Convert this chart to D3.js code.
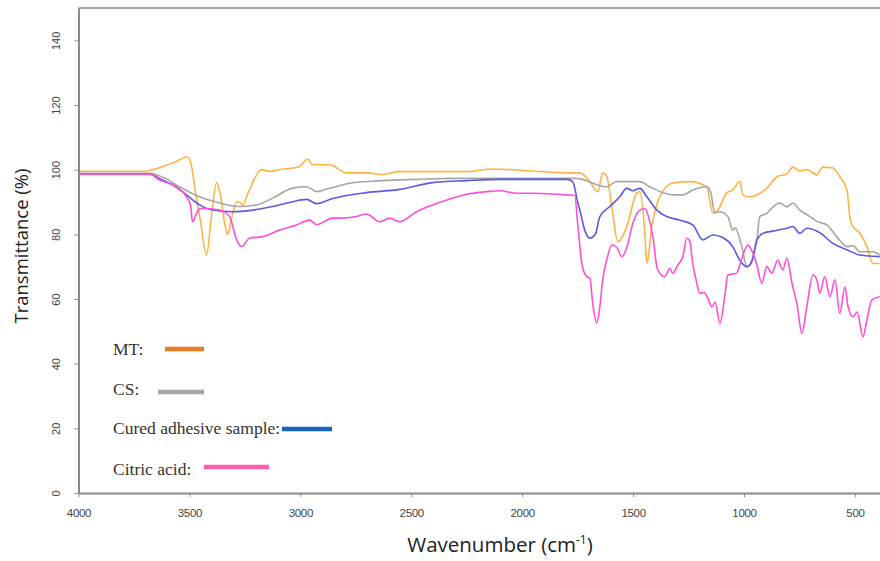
<!DOCTYPE html>
<html>
<head>
<meta charset="utf-8">
<script src="https://cdn.jsdelivr.net/npm/d3@7"></script>
<style>
  body { margin: 0; background: #fff; }
  svg { display: block; }
</style>
</head>
<body>
<svg width="880" height="561"></svg>
<script>
// FTIR spectra, [wavenumber, transmittance %]
const mt = [[4000,99.5],[3711,99.5],[3640,100.5],[3560,102.5],[3508,104],[3490,101],[3477,95],[3450,84],[3423,73.6],[3400,86],[3378,96],[3360,92],[3340,83],[3328,80],[3310,85],[3287,90],[3274,90],[3260,89],[3240,92],[3200,98],[3175,100],[3140,99.5],[3094,100],[3035,100.5],[3003,101],[2967,103.3],[2945,101.5],[2868,101.5],[2791,99],[2701,99],[2629,98.5],[2552,99.4],[2403,99.4],[2250,99.4],[2133,100.2],[1952,99.6],[1799,99],[1740,99],[1695,96.3],[1659,93.2],[1637,99],[1619,98],[1596,88.5],[1569,77.7],[1529,82.3],[1483,92.8],[1470,93.2],[1447,80.4],[1438,71],[1416,82.3],[1380,91.6],[1321,95.9],[1245,96.3],[1168,94.7],[1141,86.6],[1118,87.5],[1078,92.8],[1051,93.7],[1019,96.3],[1005,92.2],[974,91.6],[897,94.3],[852,97.8],[807,98.7],[780,100.8],[748,99.6],[717,100],[672,98.4],[645,100.8],[600,100.5],[568,97.8],[536,93.7],[523,85.5],[509,82.4],[478,80.4],[446,76.2],[419,71],[388,71]];

const cs = [[4000,98.9],[3680,98.9],[3600,97],[3545,94.7],[3454,91.6],[3364,89.7],[3287,88.6],[3197,89.1],[3125,91.2],[3035,94.3],[2972,94.7],[2927,93.2],[2882,94],[2823,95],[2778,95.8],[2629,96.6],[2476,97],[2327,97.3],[1952,97.3],[1760,97.3],[1727,97],[1682,95.8],[1619,94.7],[1574,96.3],[1470,96.3],[1425,94.7],[1321,92.2],[1276,92.2],[1231,93.7],[1168,94.7],[1150,93],[1132,86.6],[1109,87],[1073,85.5],[1051,81.3],[1040,82],[1010,76.2],[987,70],[965,72],[942,78.3],[929,85.5],[897,86.5],[875,88.1],[839,89.7],[807,88.5],[780,89.7],[748,87.5],[703,85.5],[672,84],[627,82.9],[582,79.3],[536,76.2],[509,76.5],[478,74.6],[419,74.6],[388,73.6]];

const cured = [[4000,98.6],[3680,98.6],[3635,97.3],[3576,95.3],[3513,92.2],[3454,89.1],[3396,87.5],[3305,87],[3215,87.5],[3125,88.6],[3035,90.1],[2972,90.8],[2927,89.5],[2854,91.1],[2701,92.9],[2552,93.9],[2403,96],[2250,96.6],[2101,97],[1799,97],[1772,96.3],[1750,90],[1740,87.5],[1718,81.3],[1695,78.8],[1670,80],[1650,85.5],[1605,88.6],[1560,91.6],[1529,94.2],[1501,93.5],[1470,94.2],[1438,91.6],[1393,87.5],[1348,85.5],[1290,84.4],[1231,82.9],[1186,78.3],[1141,79.8],[1096,79],[1051,76.2],[1019,72],[987,70],[965,71.5],[942,78.3],[915,80.3],[870,81],[807,81.9],[780,82.4],[748,80.3],[717,81.9],[658,80.5],[600,77.2],[536,75.2],[478,73.6],[388,73.1]];

const citric = [[4000,98.6],[3680,98.6],[3635,96.8],[3558,94.7],[3513,91.6],[3495,89],[3486,83.9],[3468,86.5],[3454,88],[3423,88],[3364,87.5],[3319,85.5],[3287,78.3],[3265,76.2],[3229,78.8],[3170,79.3],[3094,81.3],[3017,82.9],[2958,84.4],[2927,83],[2854,85],[2823,85],[2746,85.5],[2701,86.3],[2643,83.9],[2597,85],[2552,83.9],[2476,87],[2403,89.1],[2340,90.6],[2250,92.4],[2160,93.2],[2101,93.5],[2025,92.7],[1952,92.7],[1799,92.2],[1763,92],[1750,83.5],[1731,71],[1709,66.9],[1695,66.5],[1682,58.7],[1664,52.5],[1650,57.6],[1637,65.9],[1619,72],[1596,76.7],[1574,76],[1551,73.1],[1529,75.7],[1501,83.4],[1470,87.5],[1447,88],[1425,84],[1411,79.3],[1393,70],[1380,68],[1357,66.9],[1335,69.5],[1321,68],[1299,70.5],[1276,73.1],[1258,78.8],[1245,78],[1231,71],[1213,64.9],[1199,61.8],[1180,62],[1163,60.2],[1145,57.6],[1130,59],[1109,52.5],[1087,60.7],[1073,67.4],[1033,68],[1019,70.5],[996,75.2],[983,76.7],[965,75],[942,70.5],[920,64.9],[897,70],[875,68],[848,72],[825,69],[807,72.6],[784,64.9],[762,58.7],[739,49.4],[717,57.6],[690,67.4],[672,66],[658,61.8],[636,66.9],[613,60.7],[590,65.9],[568,55.6],[545,63.8],[532,58],[509,54.5],[490,56],[464,48.3],[446,53.5],[424,59.7],[388,60.7]];

const xTicks = [4000, 3500, 3000, 2500, 2000, 1500, 1000, 500];
const yTicks = [0, 20, 40, 60, 80, 100, 120, 140];

const series = [
    { name: "MT:", data: mt, color: "#ffb347", key: "#f07a22" },
    { name: "CS:", data: cs, color: "#a6a6a6", key: "#a6a6a6" },
    { name: "Cured adhesive sample:", data: cured, color: "#5a5ae6", key: "#1763c0" },
    { name: "Citric acid:", data: citric, color: "#ff4fd6", key: "#ff5db2" }
];

const svg = d3.select("svg");

const x = d3.scaleLinear().domain([4000, 387]).range([78.5, 880]),
    y = d3.scaleLinear().domain([0, 150]).range([493, 8]);

const axisColor = "#8a8a8a";

// frame top line
svg.append("line")
    .attr("x1", x(4000)).attr("x2", 880)
    .attr("y1", y(150)).attr("y2", y(150))
    .attr("stroke", axisColor).attr("stroke-width", 1.5);

// spectra
const line = d3.line()
    .x(d => x(d[0]))
    .y(d => y(d[1]))
    .curve(d3.curveMonotoneX);

series.forEach(s => {
    svg.append("path")
        .datum(s.data)
        .attr("fill", "none")
        .attr("stroke", s.color)
        .attr("stroke-width", 1.6)
        .attr("stroke-linejoin", "round")
        .attr("d", line);
});

// Y axis
const yAxis = svg.append("g")
    .attr("transform", `translate(${x(4000)},0)`)
    .call(d3.axisLeft(y).tickValues(yTicks).tickSize(4).tickSizeOuter(0));
yAxis.select(".domain").attr("stroke", axisColor).attr("stroke-width", 2);
yAxis.selectAll(".tick line").attr("stroke", axisColor);
yAxis.selectAll("text")
    .attr("transform", "rotate(-90)")
    .attr("x", 0)
    .attr("y", -22)
    .attr("dy", "0.35em")
    .style("text-anchor", "middle")
    .attr("fill", "#444")
    .attr("font-family", "Liberation Sans, Arial, sans-serif")
    .attr("font-size", "11px");

// X axis
const xAxis = svg.append("g")
    .attr("transform", `translate(0,${y(0)})`)
    .call(d3.axisBottom(x).tickValues(xTicks).tickFormat(d3.format("d")).tickSize(4).tickSizeOuter(0));
xAxis.select(".domain").attr("stroke", axisColor).attr("stroke-width", 2);
xAxis.selectAll(".tick line").attr("stroke", axisColor);
xAxis.selectAll("text")
    .attr("y", 24)
    .attr("dy", 0)
    .attr("fill", "#444")
    .attr("font-family", "Liberation Sans, Arial, sans-serif")
    .attr("font-size", "11.5px")
    .attr("letter-spacing", "-0.3px");

// axis titles
const xTitle = svg.append("text")
    .attr("x", 500)
    .attr("y", 552)
    .attr("text-anchor", "middle")
    .attr("font-family", "Open Sans, sans-serif")
    .attr("font-size", "20.5px")
    .attr("fill", "#222")
    .text("Wavenumber (cm");
xTitle.append("tspan").attr("dy", -8).attr("font-size", "12px").text("-1");
xTitle.append("tspan").attr("dy", 8).text(")");

svg.append("text")
    .attr("transform", "translate(28,246) rotate(-90)")
    .attr("text-anchor", "middle")
    .attr("font-family", "Open Sans, sans-serif")
    .attr("font-size", "18.5px")
    .attr("fill", "#222")
    .text("Transmittance (%)");

// legend
const legendRows = [
    { ty: 355, ly: 349, x1: 165, x2: 204 },
    { ty: 395, ly: 392, x1: 158, x2: 204 },
    { ty: 434, ly: 429, x1: 282, x2: 332 },
    { ty: 475, ly: 467, x1: 204, x2: 269 }
];

series.forEach((s, i) => {
    const r = legendRows[i];
    svg.append("text")
        .attr("x", 113)
        .attr("y", r.ty)
        .attr("font-family", "Liberation Serif, Times New Roman, serif")
        .attr("font-size", "17.5px")
        .attr("fill", "#333")
        .text(s.name);
    svg.append("line")
        .attr("x1", r.x1).attr("x2", r.x2)
        .attr("y1", r.ly).attr("y2", r.ly)
        .attr("stroke", s.key)
        .attr("stroke-width", 4.5);
});
</script>
</body>
</html>
